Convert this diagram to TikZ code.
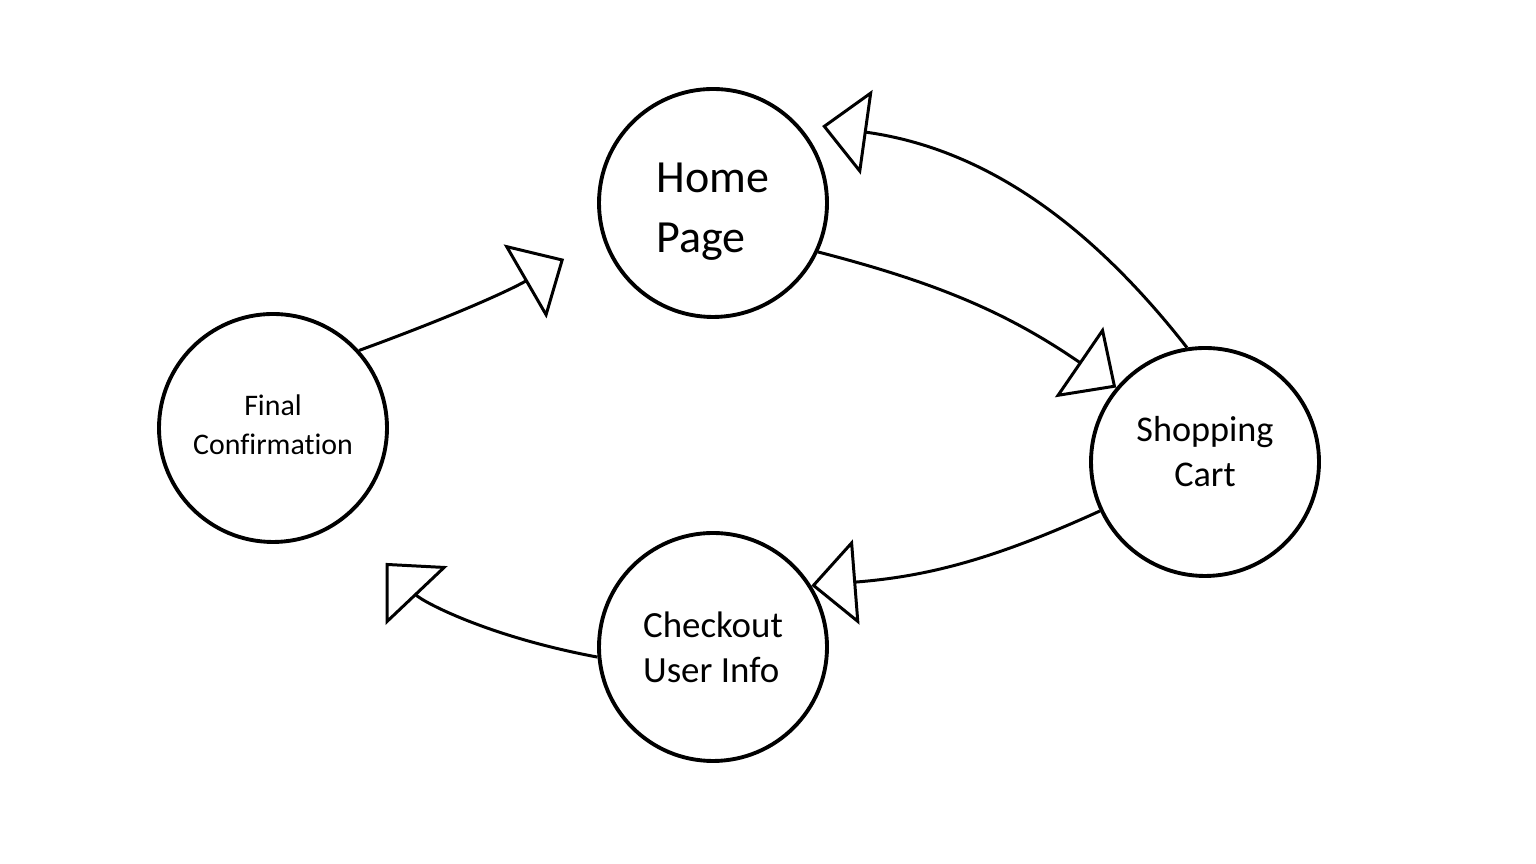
\documentclass[tikz,border=0pt]{standalone}
\usepackage{fontspec}
\setmainfont{Carlito}[Ligatures=CommonOff]
\usepackage{tikz}
\usetikzlibrary{arrows.meta}
\newcommand{\nudge}[2]{\raisebox{#1}[\height][\depth]{#2}}
\tikzstyle{page} = [circle, text centered, draw=black, line width=1.1pt, minimum size=2.28cm, inner sep=0pt]
\tikzstyle{arrow} = [line width=0.85pt, -{Triangle[open, length=0.45cm, width=0.85cm]}]

\begin{document}
\begin{tikzpicture}[node distance=1cm]
\useasboundingbox (0,0) rectangle (15.36,8.64);

\node (home) [page, align=left, font={\fontsize{13.1}{17}\selectfont}] at (7.13,6.61) {\nudge{-0.09cm}{Home}\\\nudge{-0.09cm}{Page}};
\node (cart) [page, align=center, font={\fontsize{10.3}{12.8}\selectfont}, right of=home, xshift=3.92cm, yshift=-2.59cm] {\nudge{0.1cm}{Shopping}\\\nudge{0.1cm}{Cart}};
\node (checkout) [page, align=left, font={\fontsize{10.5}{12.8}\selectfont}, below of=home, yshift=-3.44cm] {Checkout\\User Info};
\node (final) [page, align=center, font={\fontsize{8.5}{11}\selectfont}, left of=home, xshift=-3.4cm, yshift=-2.25cm] {\nudge{0.03cm}{Final}\\\nudge{0.03cm}{Confirmation}};

\draw [arrow, shorten >=0.44cm] (final.42) to [bend right=5] (home.197);
\draw [arrow] (home.335) to [bend left=10] (cart.140);
\draw [arrow, shorten >=0.26cm] (cart.99) to [bend right=22] (home.44);
\draw [arrow] (cart.205) to [bend left=10] (checkout.32);
\draw [arrow, shorten >=0.6cm] (checkout.185) to [bend left=18] (final.308);

\end{tikzpicture}
\end{document}
